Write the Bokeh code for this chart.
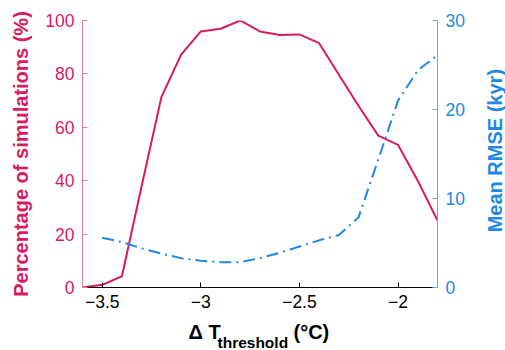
import math
from bokeh.plotting import figure
from bokeh.models import Range1d, LinearAxis, FixedTicker
from bokeh.layouts import column, row
from bokeh.core.properties import value
from bokeh.embed import file_html
from bokeh.resources import INLINE

# Data
dT_pct = [-3.6, -3.5, -3.4, -3.3, -3.2, -3.1, -3.0, -2.9, -2.8, -2.7,
          -2.6, -2.5, -2.4, -2.3, -2.2, -2.1, -2.0, -1.9, -1.8]
pct_sims = [0.0, 1.0, 4.2, 38.0, 71.3, 87.2, 95.9, 96.9, 100.0, 95.9,
            94.6, 94.8, 91.5, 79.7, 68.0, 56.9, 53.4, 40.0, 25.1]

dT_rmse = [-3.5, -3.4, -3.3, -3.2, -3.1, -3.0, -2.9, -2.8, -2.7,
           -2.6, -2.5, -2.4, -2.3, -2.2, -2.1, -2.0, -1.9, -1.8]
rmse_kyr = [5.6, 5.1, 4.4, 3.8, 3.3, 3.0, 2.85, 2.85, 3.3,
            3.9, 4.6, 5.3, 5.9, 7.9, 14.4, 21.0, 24.4, 26.1]

x_ticks = [-3.5, -3.0, -2.5, -2.0]
x_tick_labels = ["\u22123.5", "\u22123", "\u22122.5", "\u22122"]
left_ticks = [0, 20, 40, 60, 80, 100]
right_ticks = [0, 10, 20, 30]

RED = "#D81B60"
BLUE = "#1E88E5"
FONT = "Liberation Sans"

MAIN_W, MAIN_H = 467, 316
RIGHT_W = 38
BOTTOM_H = 34

p = figure(width=MAIN_W, height=MAIN_H, output_backend="svg", toolbar_location=None,
           x_range=Range1d(-3.6, -1.8), y_range=Range1d(0, 100),
           min_border_left=82, min_border_right=29, min_border_top=20,
           min_border_bottom=29)
p.outline_line_color = None
p.grid.visible = False
p.background_fill_color = "white"
p.border_fill_color = "white"

p.extra_y_ranges = {"rmse": Range1d(0, 30)}

p.line(dT_pct, pct_sims, line_color=RED, line_width=2)
p.line(dT_rmse, rmse_kyr, line_color=BLUE, line_width=2,
       line_dash="12 5 2 5", y_range_name="rmse")

# x axis
xa = p.xaxis[0]
xa.ticker = FixedTicker(ticks=x_ticks)
xa.major_label_overrides = {t: l for t, l in zip(x_ticks, x_tick_labels)}
xa.major_label_text_font = FONT
xa.major_label_text_font_size = "17.5px"
xa.major_label_text_color = "black"
xa.major_label_standoff = 7
xa.major_tick_in = 5
xa.major_tick_out = 0
xa.minor_tick_line_color = None
xa.axis_line_color = "black"
xa.major_tick_line_color = "black"

# left axis
ya = p.yaxis[0]
ya.ticker = FixedTicker(ticks=left_ticks)
ya.major_label_text_font = FONT
ya.major_label_text_font_size = "17.5px"
ya.major_label_text_color = RED
ya.major_label_standoff = 8
ya.major_tick_in = 5
ya.major_tick_out = 0
ya.minor_tick_line_color = None
ya.axis_line_color = "#E57CA3"
ya.major_tick_line_color = "#E57CA3"
ya.axis_label = "Percentage of simulations (%)"
ya.axis_label_text_font = FONT
ya.axis_label_text_font_style = "bold"
ya.axis_label_text_font_size = "20px"
ya.axis_label_text_color = RED
ya.axis_label_standoff = 10

# right axis (its title is drawn in the narrow panel to the right)
ra = LinearAxis(y_range_name="rmse", ticker=FixedTicker(ticks=right_ticks))
ra.major_label_text_font = FONT
ra.major_label_text_font_size = "17.5px"
ra.major_label_text_color = BLUE
ra.major_label_standoff = 8
ra.major_tick_in = 5
ra.major_tick_out = 0
ra.minor_tick_line_color = None
ra.axis_line_color = "#62ADEC"
ra.major_tick_line_color = "#62ADEC"
p.add_layout(ra, "right")


def text_panel(w, h):
    f = figure(width=w, height=h, output_backend="svg", toolbar_location=None,
               x_range=Range1d(0, w), y_range=Range1d(0, h),
               x_axis_type=None, y_axis_type=None, min_border=0)
    f.outline_line_color = None
    f.grid.visible = False
    f.background_fill_color = "white"
    f.border_fill_color = "white"
    return f


# right title panel
pr = text_panel(RIGHT_W, MAIN_H)
pr.text(x=[27], y=[MAIN_H - 154], text=["Mean RMSE (kyr)"], angle=math.pi / 2,
        text_font=value(FONT), text_font_style="bold", text_font_size="20px",
        text_color=BLUE, text_align="center", text_baseline="middle")

# bottom x-axis title with subscript
pb = text_panel(MAIN_W + RIGHT_W, BOTTOM_H)
pb.text(x=[188], y=[BOTTOM_H - 15], text=["\u0394 T"],
        text_font=value(FONT), text_font_style="bold", text_font_size="20px",
        text_color="black", text_align="left", text_baseline="middle")
pb.text(x=[217], y=[BOTTOM_H - 25.5], text=["threshold"],
        text_font=value(FONT), text_font_style="bold", text_font_size="15.5px",
        text_color="black", text_align="left", text_baseline="middle")
pb.text(x=[293], y=[BOTTOM_H - 15], text=["(\u00b0C)"],
        text_font=value(FONT), text_font_style="bold", text_font_size="20px",
        text_color="black", text_align="left", text_baseline="middle")

layout = column(row(p, pr, spacing=0), pb, spacing=0)

open("out.html", "w").write(file_html(layout, INLINE))
